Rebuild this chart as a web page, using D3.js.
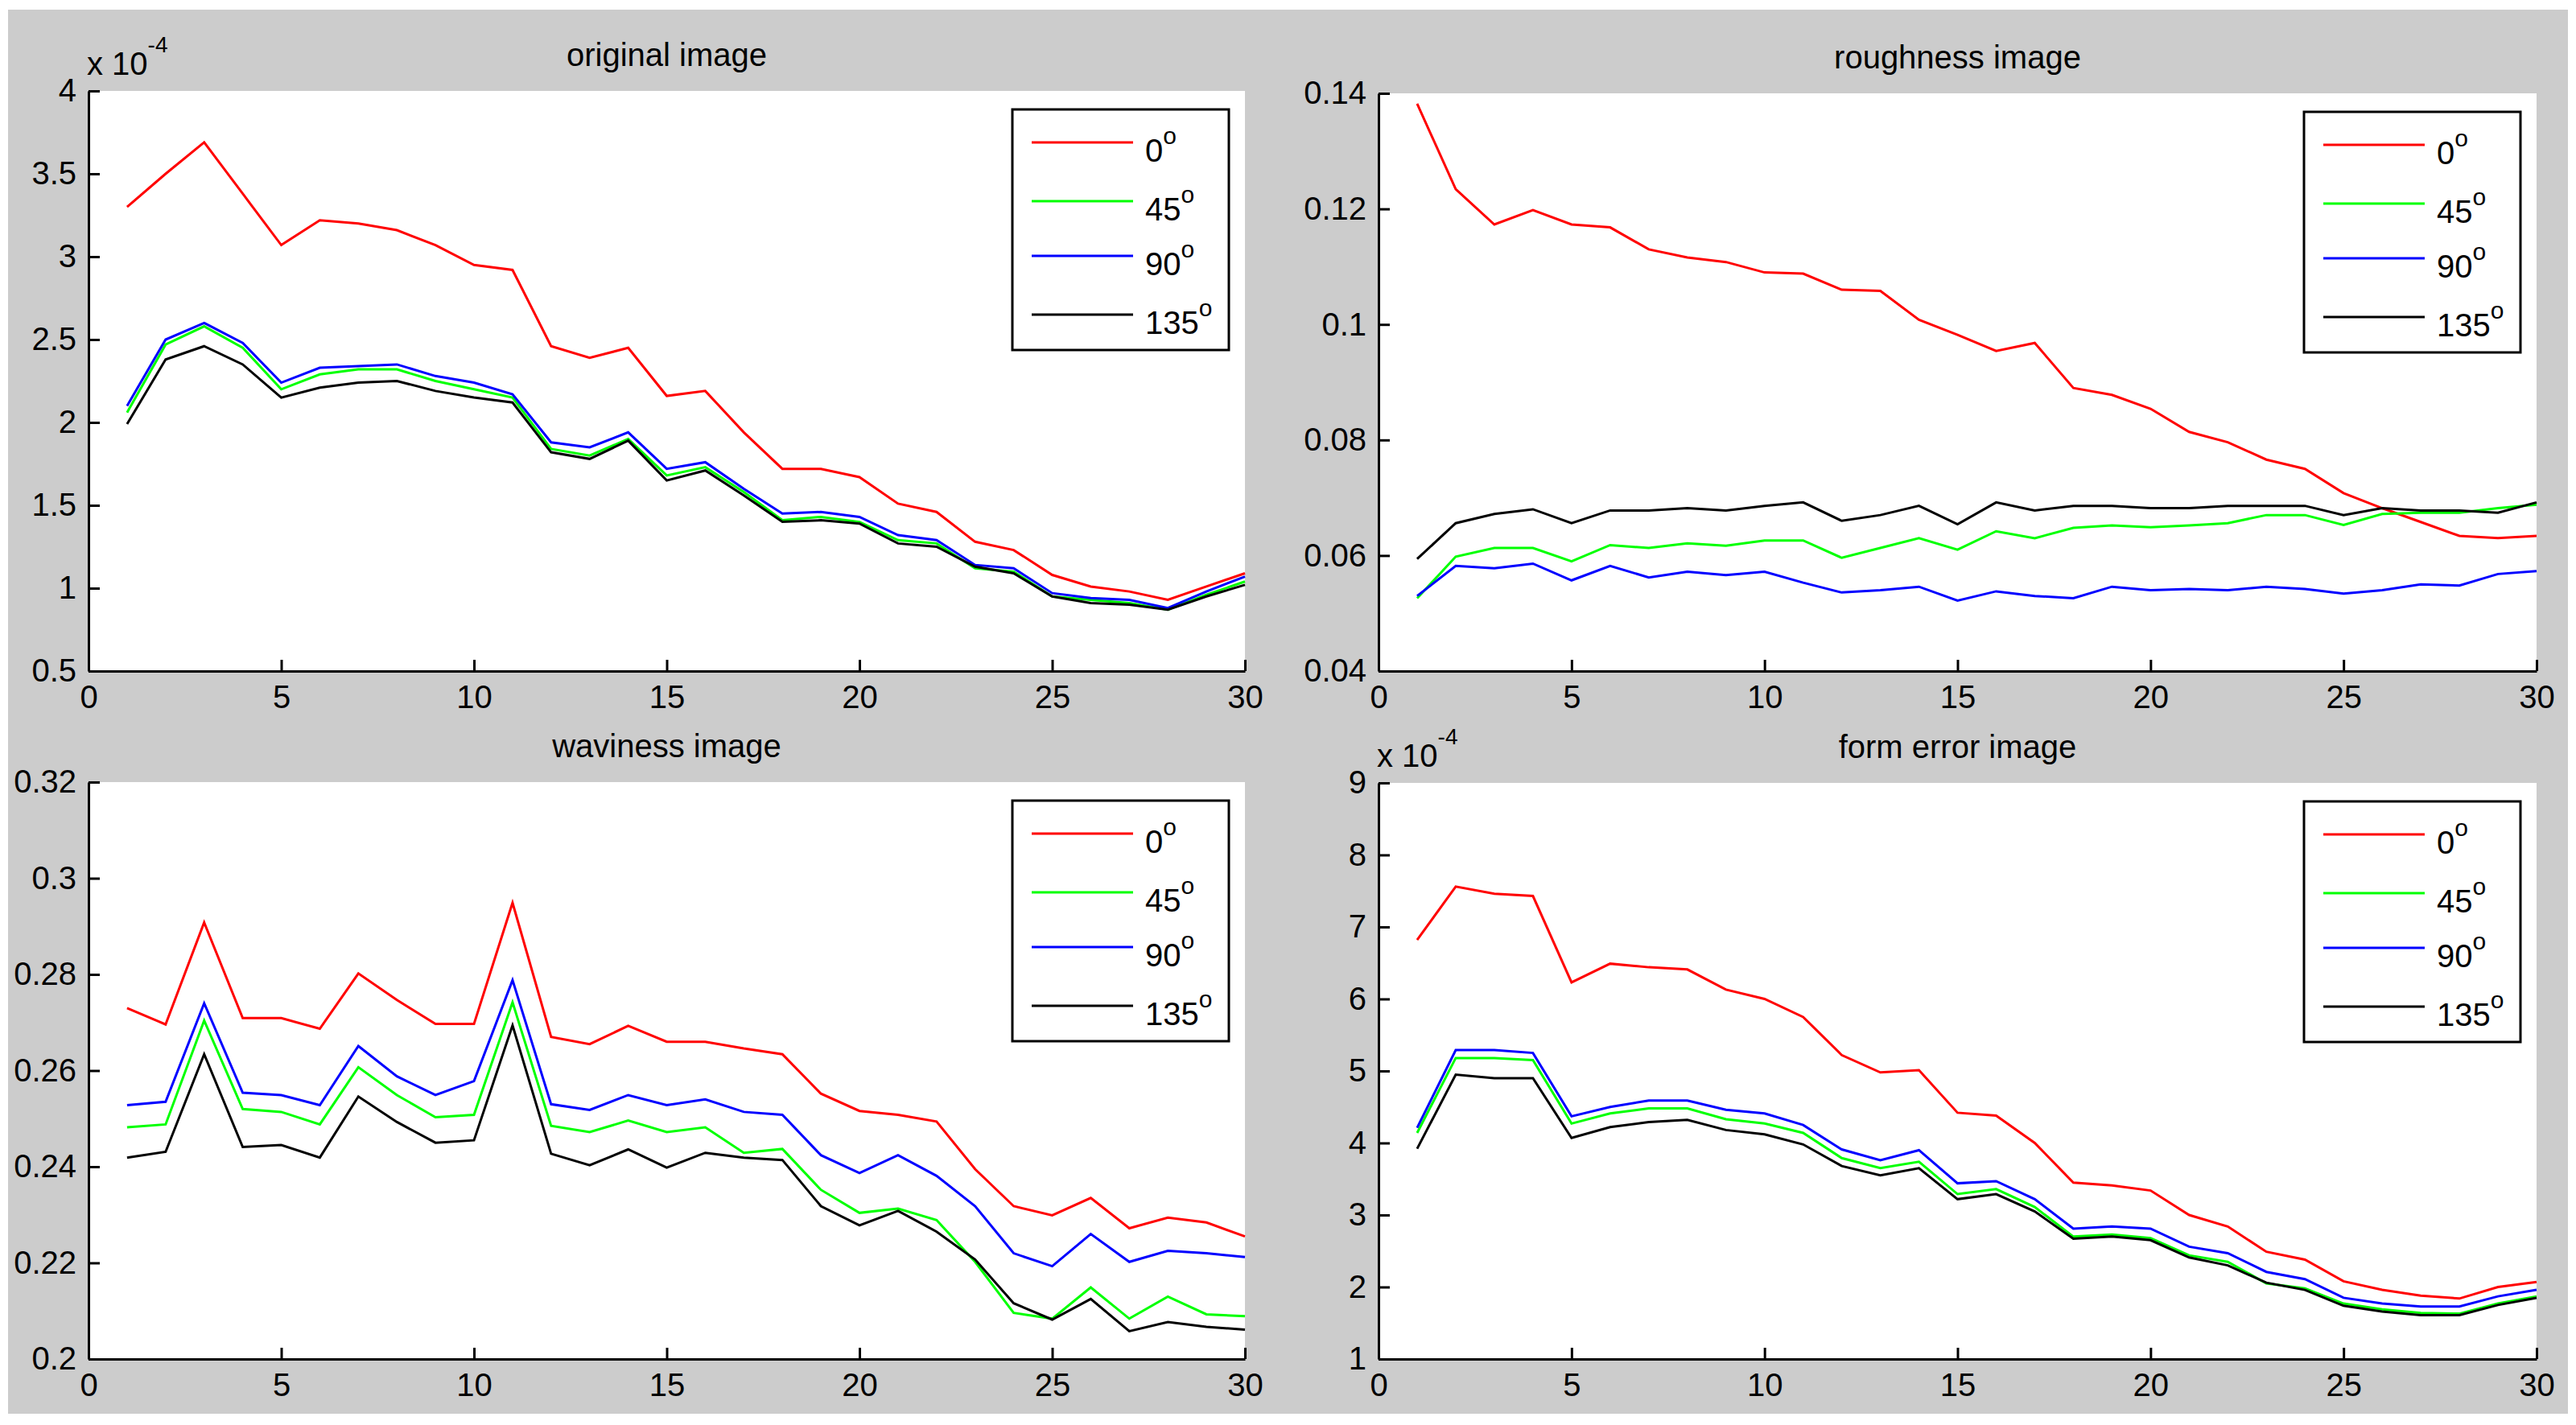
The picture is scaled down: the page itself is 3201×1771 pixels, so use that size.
<!DOCTYPE html>
<html>
<head>
<meta charset="utf-8">
<script src="https://cdn.jsdelivr.net/npm/d3@7"></script>
<style>
html,body{margin:0;padding:0;background:#fff;}
svg{display:block;}
text{font-family:"Liberation Sans",Arial,sans-serif;fill:#000;}
</style>
</head>
<body>
<svg id="chart" width="3201" height="1771"></svg>
<script>
// ---------- data ----------
const xIndex = [1,2,3,4,5,6,7,8,9,10,11,12,13,14,15,16,17,18,19,20,21,22,23,24,25,26,27,28,29,30];
const seriesNames = ["0", "45", "90", "135"];
const seriesColors = ["#ff0000", "#00ff00", "#0000ff", "#000000"];
const xTicks = [0,5,10,15,20,25,30];

// original image (x 10^-4)
const orig0   = [3.30,3.50,3.69,3.38,3.07,3.22,3.20,3.16,3.07,2.95,2.92,2.46,2.39,2.45,2.16,2.19,1.94,1.72,1.72,1.67,1.51,1.46,1.28,1.23,1.08,1.01,0.98,0.93,1.01,1.09];
const orig45  = [2.06,2.47,2.58,2.45,2.20,2.29,2.32,2.32,2.25,2.20,2.15,1.84,1.80,1.90,1.68,1.73,1.58,1.41,1.43,1.40,1.29,1.27,1.12,1.10,0.95,0.93,0.91,0.87,0.96,1.04];
const orig90  = [2.10,2.50,2.60,2.48,2.24,2.33,2.34,2.35,2.28,2.24,2.17,1.88,1.85,1.94,1.72,1.76,1.60,1.45,1.46,1.43,1.32,1.29,1.14,1.12,0.97,0.94,0.93,0.88,0.98,1.07];
const orig135 = [1.99,2.38,2.46,2.35,2.15,2.21,2.24,2.25,2.19,2.15,2.12,1.82,1.78,1.89,1.65,1.71,1.56,1.40,1.41,1.39,1.27,1.25,1.13,1.09,0.95,0.91,0.90,0.87,0.95,1.02];
const origTicks = [0.5,1,1.5,2,2.5,3,3.5,4];

// roughness image
const rough0   = [0.1382,0.1234,0.1173,0.1198,0.1173,0.1168,0.1130,0.1116,0.1108,0.1090,0.1088,0.1060,0.1058,0.1008,0.0982,0.0954,0.0968,0.0890,0.0878,0.0854,0.0814,0.0796,0.0766,0.0750,0.0708,0.0682,0.0658,0.0634,0.0630,0.0634];
const rough45  = [0.0526,0.0598,0.0613,0.0613,0.0590,0.0618,0.0613,0.0621,0.0617,0.0626,0.0626,0.0596,0.0613,0.0630,0.0610,0.0642,0.0630,0.0648,0.0652,0.0649,0.0652,0.0656,0.0670,0.0670,0.0653,0.0672,0.0674,0.0674,0.0682,0.0688];
const rough90  = [0.0530,0.0582,0.0578,0.0586,0.0557,0.0582,0.0562,0.0572,0.0566,0.0572,0.0553,0.0536,0.0540,0.0546,0.0522,0.0538,0.0530,0.0526,0.0546,0.0540,0.0542,0.0540,0.0546,0.0542,0.0534,0.0540,0.0550,0.0548,0.0568,0.0573];
const rough135 = [0.0594,0.0656,0.0672,0.0680,0.0656,0.0678,0.0678,0.0682,0.0678,0.0686,0.0692,0.0660,0.0670,0.0686,0.0654,0.0692,0.0678,0.0686,0.0686,0.0682,0.0682,0.0686,0.0686,0.0686,0.0670,0.0682,0.0678,0.0678,0.0674,0.0692];
const roughTicks = [0.04,0.06,0.08,0.1,0.12,0.14];

// waviness image
const wavy0   = [0.2730,0.2696,0.2908,0.2709,0.2709,0.2687,0.2802,0.2747,0.2697,0.2697,0.2949,0.2670,0.2655,0.2693,0.2660,0.2660,0.2646,0.2634,0.2552,0.2516,0.2508,0.2494,0.2395,0.2318,0.2299,0.2335,0.2272,0.2294,0.2284,0.2255];
const wavy45  = [0.2482,0.2488,0.2704,0.2520,0.2514,0.2488,0.2607,0.2549,0.2503,0.2508,0.2742,0.2485,0.2472,0.2496,0.2472,0.2482,0.2429,0.2437,0.2352,0.2304,0.2313,0.2289,0.2202,0.2096,0.2084,0.2149,0.2084,0.2130,0.2093,0.2089];
const wavy90  = [0.2528,0.2535,0.2740,0.2554,0.2549,0.2528,0.2651,0.2588,0.2549,0.2578,0.2788,0.2530,0.2518,0.2549,0.2528,0.2540,0.2514,0.2508,0.2424,0.2387,0.2424,0.2381,0.2318,0.2220,0.2193,0.2260,0.2202,0.2225,0.2220,0.2212];
const wavy135 = [0.2419,0.2431,0.2634,0.2441,0.2445,0.2419,0.2546,0.2493,0.2450,0.2455,0.2694,0.2427,0.2403,0.2436,0.2398,0.2429,0.2419,0.2414,0.2318,0.2278,0.2308,0.2265,0.2207,0.2116,0.2082,0.2125,0.2058,0.2077,0.2067,0.2061];
const wavyTicks = [0.2,0.22,0.24,0.26,0.28,0.3,0.32];

// form error image (x 10^-4)
const form0   = [6.82,7.56,7.46,7.43,6.23,6.49,6.44,6.41,6.13,6.00,5.75,5.22,4.98,5.01,4.42,4.38,4.00,3.45,3.41,3.34,3.00,2.84,2.49,2.38,2.08,1.96,1.88,1.84,2.00,2.07];
const form45  = [4.14,5.18,5.18,5.15,4.27,4.41,4.48,4.48,4.33,4.27,4.14,3.79,3.65,3.74,3.29,3.36,3.11,2.70,2.73,2.68,2.44,2.35,2.05,1.98,1.77,1.69,1.64,1.63,1.77,1.87];
const form90  = [4.21,5.29,5.29,5.25,4.37,4.50,4.59,4.59,4.46,4.41,4.25,3.91,3.76,3.90,3.44,3.47,3.22,2.81,2.84,2.81,2.56,2.47,2.21,2.11,1.85,1.77,1.73,1.73,1.87,1.96];
const form135 = [3.92,4.95,4.90,4.90,4.07,4.22,4.29,4.32,4.18,4.12,3.98,3.68,3.55,3.65,3.22,3.29,3.05,2.67,2.70,2.65,2.41,2.30,2.06,1.96,1.74,1.66,1.61,1.61,1.75,1.85];
const formTicks = [1,2,3,4,5,6,7,8,9];

// ---------- layout ----------
const svg = d3.select("#chart");
svg.append("rect").attr("x",10).attr("y",12).attr("width",3181).attr("height",1745).attr("fill","#cccccc");

const panels = [
  {title:"original image", series:[orig0,orig45,orig90,orig135], ticks:origTicks, exp:true,
   box:{x0:110,x1:1547,y0:113,y1:834}},
  {title:"roughness image", series:[rough0,rough45,rough90,rough135], ticks:roughTicks, exp:false,
   box:{x0:1713,x1:3152,y0:116,y1:834}},
  {title:"waviness image", series:[wavy0,wavy45,wavy90,wavy135], ticks:wavyTicks, exp:false,
   box:{x0:110,x1:1547,y0:972,y1:1689}},
  {title:"form error image", series:[form0,form45,form90,form135], ticks:formTicks, exp:true,
   box:{x0:1713,x1:3152,y0:973,y1:1689}}
];

const FS = 40;

panels.forEach(p => {
  const b = p.box;
  const g = svg.append("g");
  g.append("rect").attr("x",b.x0).attr("y",b.y0).attr("width",b.x1-b.x0).attr("height",b.y1-b.y0).attr("fill","#fff");

  const x = d3.scaleLinear().domain([0,30]).range([b.x0,b.x1]);
  const y = d3.scaleLinear().domain(d3.extent(p.ticks)).range([b.y1,b.y0]);

  // lines
  const line = d3.line().x((d,i)=>x(xIndex[i])).y(d=>y(d));
  p.series.forEach((s,k)=>{
    g.append("path").datum(s).attr("d",line).attr("fill","none")
      .attr("stroke",seriesColors[k]).attr("stroke-width",3).attr("stroke-linejoin","miter");
  });

  // axes
  const fmt = d => String(+d.toFixed(4));
  const ax = g.append("g").attr("transform",`translate(0,${b.y1})`)
    .call(d3.axisBottom(x).tickValues(xTicks).tickFormat(fmt).tickSizeInner(-14).tickSizeOuter(0).tickPadding(18));
  const ay = g.append("g").attr("transform",`translate(${b.x0},0)`)
    .call(d3.axisLeft(y).tickValues(p.ticks).tickFormat(fmt).tickSizeInner(-14).tickSizeOuter(0).tickPadding(15));
  [ax,ay].forEach(a=>{
    a.attr("font-size",FS).attr("font-family","Liberation Sans, Arial, sans-serif");
    a.selectAll("path").attr("stroke","#000").attr("stroke-width",3);
    a.selectAll("line").attr("stroke","#000").attr("stroke-width",3);
    a.selectAll("text").attr("fill","#000");
  });

  // title
  g.append("text").attr("x",(b.x0+b.x1)/2).attr("y",b.y0-31)
    .attr("text-anchor","middle").attr("font-size",FS).text(p.title);

  // exponent
  if (p.exp) {
    const t = g.append("text").attr("x",b.x0-2).attr("y",b.y0-20).attr("font-size",FS);
    t.append("tspan").text("x 10");
    t.append("tspan").attr("font-size",28).attr("dy",-28).text("-4");
  }

  // legend
  const lx = b.x1 - 20 - 269, ly = b.y0 + 23;
  const lg = g.append("g");
  lg.append("rect").attr("x",lx).attr("y",ly).attr("width",269).attr("height",299)
    .attr("fill","#fff").attr("stroke","#000").attr("stroke-width",3);
  const rows = [41,114,182,255];
  seriesNames.forEach((n,k)=>{
    lg.append("line").attr("x1",lx+24).attr("x2",lx+150).attr("y1",ly+rows[k]).attr("y2",ly+rows[k])
      .attr("stroke",seriesColors[k]).attr("stroke-width",3);
    const t = lg.append("text").attr("x",lx+165).attr("y",ly+rows[k]+24).attr("font-size",FS);
    t.append("tspan").text(n);
    t.append("tspan").attr("font-size",30).attr("dy",-22).text("o");
  });
});
</script>
</body>
</html>
